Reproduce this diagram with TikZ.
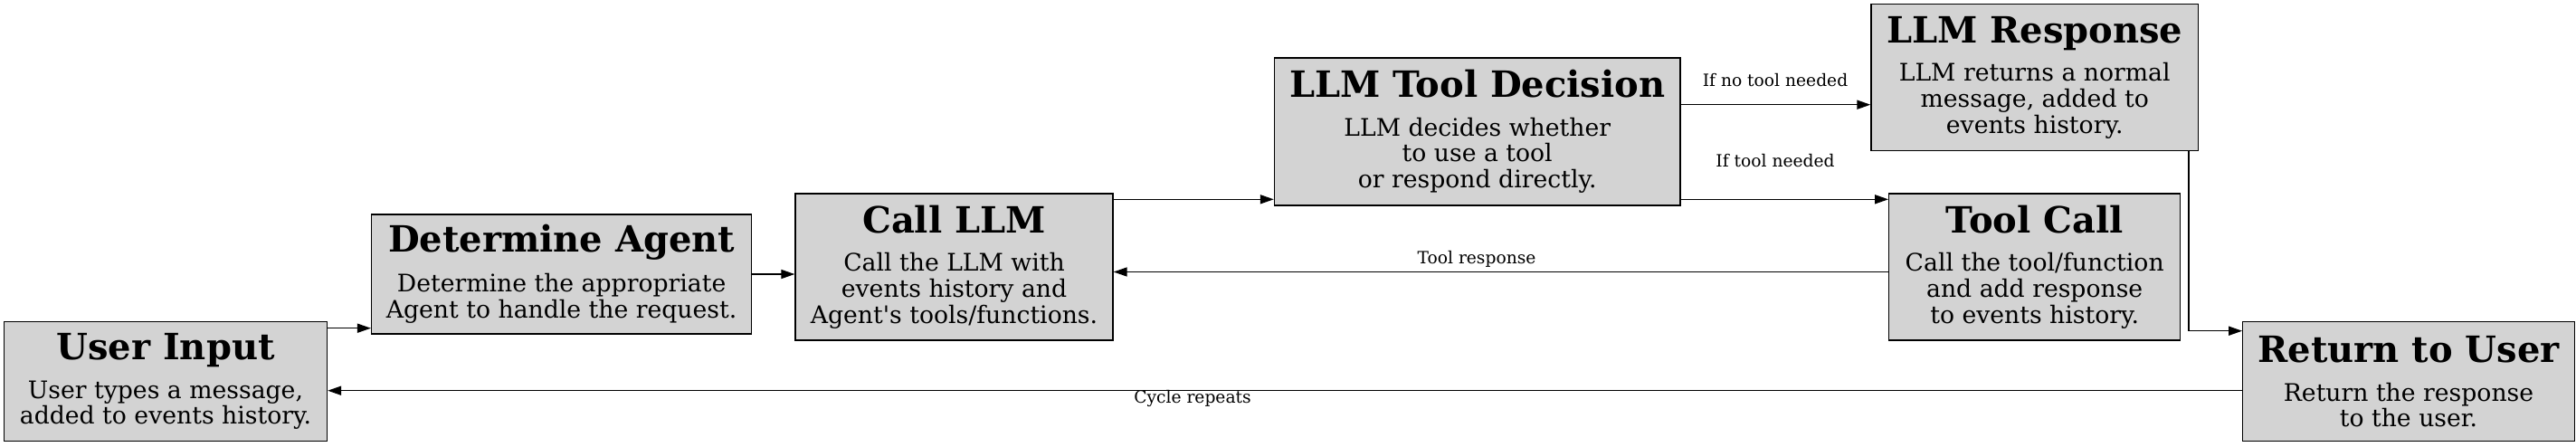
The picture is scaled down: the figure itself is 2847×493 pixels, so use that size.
\documentclass[tikz,border=0pt]{standalone}
\usepackage{fontspec}
\setmainfont{DejaVu Serif}
\newfontfamily\plainserif{DejaVu Serif}
\usetikzlibrary{arrows.meta,calc}
\definecolor{boxgray}{HTML}{D3D3D3}
\newcommand{\ttlf}{\fontsize{40}{44}\selectfont\bfseries}
\newcommand{\bdyf}{\fontsize{26.67}{28.7}\selectfont}
\newcommand{\lblf}{\fontsize{18.67}{21}\selectfont}
\newcommand{\sq}{{\plainserif'}}
\tikzset{
  box/.style={draw=black, line width=1.3pt, fill=boxgray, inner sep=0pt, align=center, font=\bdyf},
  arr/.style={draw=black, line width=1.5pt, -{Triangle[length=15pt,width=10pt]}},
  lbl/.style={font=\lblf, inner sep=0pt, anchor=base}
}
\begin{document}
\begin{tikzpicture}[x=1pt,y=-1pt]
\useasboundingbox (0,0) rectangle (2847,493);
\node[box, minimum width=357pt, minimum height=132pt] (ui) at (183,421.6)
  {{\ttlf User Input}\\[13.8pt]User types a message,\\added to events history.};
\node[box, minimum width=420pt, minimum height=132pt] (da) at (620.6,303)
  {{\ttlf Determine Agent}\\[13.8pt]Determine the appropriate\\Agent to handle the request.};
\node[box, minimum width=351pt, minimum height=162pt] (cl) at (1054.5,295)
  {{\ttlf Call LLM}\\[13.8pt]Call the LLM with\\events history and\\Agent\sq s tools/functions.};
\node[box, minimum width=448.5pt, minimum height=163pt] (ltd) at (1632.7,145.5)
  {{\ttlf LLM Tool Decision}\\[13.8pt]LLM decides whether\\to use a tool\\or respond directly.};
\node[box, minimum width=361.5pt, minimum height=162pt] (lr) at (2248.7,85.7)
  {{\ttlf LLM Response}\\[13.8pt]LLM returns a normal\\message, added to\\events history.};
\node[box, minimum width=322pt, minimum height=162pt] (tc) at (2248.7,295)
  {{\ttlf Tool Call}\\[13.8pt]Call the tool/function\\and add response\\to events history.};
\node[box, minimum width=366.5pt, minimum height=132pt] (rtu) at (2662,421.8)
  {{\ttlf Return to User}\\[13.8pt]Return the response\\to the user.};
% helper levels
\coordinate (yA) at (0,362.7);
\coordinate (yB) at (0,220.3);
\coordinate (yC) at (0,115.7);
\coordinate (yD) at (0,300.5);
\coordinate (yE) at (0,431.7);
\coordinate (yF) at (0,365.7);
\coordinate (xF) at (2419,0);
% connectors
\draw[arr] (ui.east |- yA) -- (da.west |- yA);
\draw[arr] (da.east) -- (cl.west |- da.east);
\draw[arr] (cl.east |- yB) -- (ltd.west |- yB);
\draw[arr] (ltd.east |- yC) -- (lr.west |- yC);
\draw[arr] (ltd.east |- yB) -- (tc.west |- yB);
\draw[arr] (tc.west |- yD) -- (cl.east |- yD);
\draw[arr] (xF |- lr.south) -- (xF |- yF) -- (rtu.west |- yF);
\draw[arr] (rtu.west |- yE) -- (ui.east |- yE);
% labels
\node[lbl] (l1) at (1962,95.7) {If no tool needed};
\node[lbl] (l2) at (1962,184) {If tool needed};
\node[lbl] (l3) at (1632,291) {Tool response};
\node[lbl] (l4) at (1318,445) {Cycle repeats};
\end{tikzpicture}
\end{document}
